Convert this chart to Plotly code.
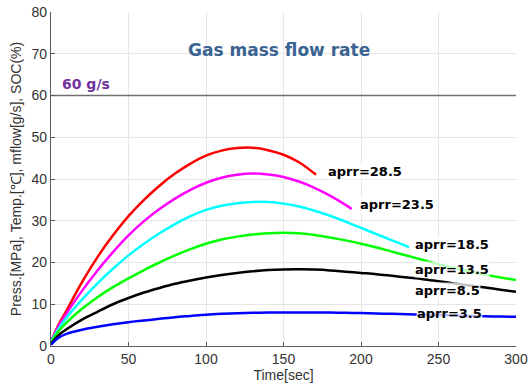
import plotly.graph_objects as go

# ---- data ----
t_red = [0, 5, 10, 20, 30, 40, 50, 60, 70, 80, 90, 100, 110, 120, 130, 140, 150, 160, 171]
v_red = [1.0, 5.2, 8.5, 15.3, 21.3, 26.5, 31.1, 35.0, 38.4, 41.3, 43.7, 45.6, 46.8, 47.4, 47.5, 46.9, 45.8, 44.0, 41.0]

t_mag = [0, 5, 10, 20, 30, 40, 50, 60, 70, 80, 90, 100, 110, 120, 130, 140, 150, 160, 170, 180, 190, 194]
v_mag = [1.0, 4.8, 7.8, 13.2, 18.1, 22.5, 26.5, 29.9, 32.8, 35.3, 37.4, 39.1, 40.3, 41.0, 41.3, 41.1, 40.5, 39.4, 37.9, 36.0, 33.8, 32.8]

t_cyan = [0, 5, 10, 20, 30, 40, 50, 60, 70, 80, 90, 100, 110, 120, 130, 140, 150, 160, 170, 180, 190, 200, 210, 220, 231]
v_cyan = [1.0, 4.2, 6.8, 11.1, 15.0, 18.5, 21.7, 24.5, 27.0, 29.2, 31.1, 32.6, 33.6, 34.2, 34.5, 34.5, 34.1, 33.4, 32.4, 31.2, 29.8, 28.3, 26.8, 25.3, 23.7]

t_green = [0, 5, 10, 20, 30, 40, 50, 60, 70, 80, 90, 100, 110, 120, 130, 140, 150, 160, 170, 180, 190, 200, 210, 220, 230, 240, 250, 260, 270, 280, 290, 300]
v_green = [0.8, 3.6, 5.6, 8.9, 11.7, 14.1, 16.2, 18.2, 20.0, 21.7, 23.2, 24.5, 25.5, 26.2, 26.7, 27.0, 27.1, 27.0, 26.6, 26.0, 25.3, 24.5, 23.6, 22.6, 21.6, 20.6, 19.6, 18.7, 17.9, 17.1, 16.4, 15.8]

t_black = [0, 5, 10, 20, 30, 40, 50, 60, 70, 80, 90, 100, 110, 120, 130, 140, 150, 160, 170, 180, 190, 200, 210, 220, 230, 240, 250, 260, 270, 280, 290, 300]
v_black = [0.5, 2.6, 4.0, 6.3, 8.2, 10.0, 11.5, 12.8, 13.9, 14.9, 15.7, 16.4, 17.0, 17.5, 17.9, 18.2, 18.35, 18.4, 18.3, 18.1, 17.8, 17.5, 17.2, 16.8, 16.4, 16.0, 15.5, 15.0, 14.5, 14.0, 13.5, 13.0]

t_blue = [0, 5, 10, 20, 30, 40, 50, 60, 70, 80, 90, 100, 110, 120, 130, 140, 150, 160, 170, 180, 190, 200, 210, 220, 230, 240, 250, 260, 270, 280, 290, 300]
v_blue = [0.3, 2.0, 2.9, 3.9, 4.6, 5.2, 5.7, 6.1, 6.5, 6.9, 7.2, 7.5, 7.7, 7.85, 7.95, 8.0, 8.05, 8.05, 8.05, 8.0, 7.95, 7.9, 7.8, 7.7, 7.6, 7.5, 7.4, 7.3, 7.2, 7.1, 7.05, 7.0]

flow_limit = 60
limit_t = [0, 300]

labels = ["aprr=28.5", "aprr=23.5", "aprr=18.5", "aprr=13.5", "aprr=8.5", "aprr=3.5"]
label_t = [178, 198.5, 234, 234, 234, 235.5]
label_v = [41.9, 33.8, 24.4, 18.4, 13.4, 7.8]

series = [
    (t_red, v_red, "#ff0000"),
    (t_mag, v_mag, "#ff00ff"),
    (t_cyan, v_cyan, "#00ffff"),
    (t_green, v_green, "#00ff00"),
    (t_black, v_black, "#000000"),
    (t_blue, v_blue, "#0000ff"),
]

fig = go.Figure()

fig.add_trace(go.Scatter(x=limit_t, y=[flow_limit, flow_limit], mode="lines",
                         line=dict(color="#707070", width=1.5), showlegend=False))

for t, v, c in series:
    fig.add_trace(go.Scatter(x=t, y=v, mode="lines",
                             line=dict(color=c, width=2.5, shape="spline", smoothing=1.0),
                             showlegend=False))

for txt, lt, lv in zip(labels, label_t, label_v):
    fig.add_annotation(x=lt, y=lv, text=txt, showarrow=False, xanchor="left", yanchor="middle",
                       font=dict(family="DejaVu Sans", size=13, color="#000000", weight="bold"),
                       bgcolor="rgba(255,255,255,0.75)", borderpad=0)

fig.add_annotation(x=146.8, y=71.0, text="Gas mass flow rate", showarrow=False,
                   font=dict(family="DejaVu Sans", size=17, color="#3b6392", weight="bold"))
fig.add_annotation(x=6, y=62.8, text="60 g/s", showarrow=False, xanchor="left",
                   font=dict(family="DejaVu Sans", size=14, color="#7030a0", weight="bold"))

# y-axis title placed as rotated text to match the reference position
fig.add_annotation(xref="paper", yref="paper", x=-0.075, y=0.5, xanchor="center", yanchor="middle",
                   text="Press.[MPa], Temp.[℃], mflow[g/s], SOC(%)", textangle=-90, showarrow=False,
                   font=dict(family="Liberation Sans", size=14, color="#333333"))

axis_common = dict(showgrid=True, gridcolor="#e6e6e6", gridwidth=1, showline=True,
                   linecolor="#5a5a5a", linewidth=1.2, ticks="inside", ticklen=4,
                   tickcolor="#5a5a5a", zeroline=False, automargin=False,
                   ticklabeloverflow="allow",
                   tickfont=dict(family="Liberation Sans", size=14, color="#333333"))

fig.update_xaxes(range=[0, 300], dtick=50, title=dict(text="Time[sec]", standoff=4,
                 font=dict(family="Liberation Sans", size=14, color="#333333")), **axis_common)
fig.update_yaxes(range=[0, 80], dtick=10, **axis_common)

fig.update_layout(width=529, height=388, margin=dict(l=51, r=13, t=12, b=42),
                  plot_bgcolor="white", paper_bgcolor="white")

# remove the browser's default body margin so the figure fills the window exactly
fig.write_html("out.html", config={"displayModeBar": False},
               post_script="document.body.style.margin='0';document.body.style.overflow='hidden';")
